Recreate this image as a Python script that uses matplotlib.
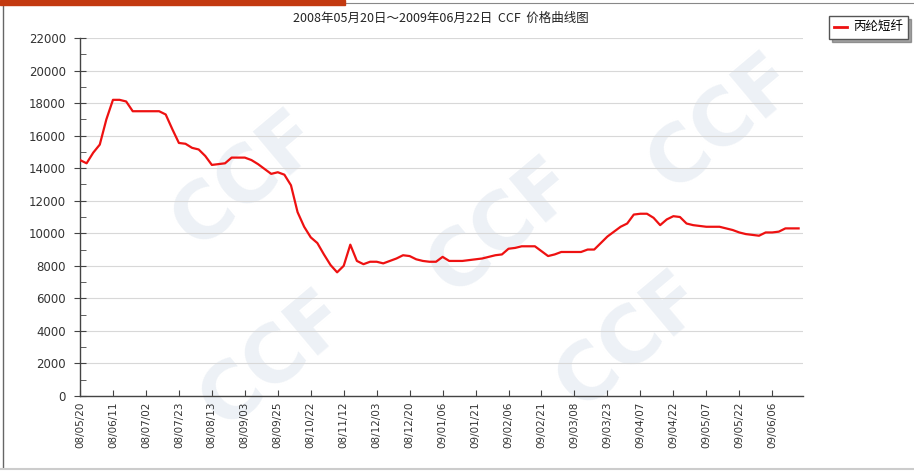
import numpy as np
import matplotlib
matplotlib.use('Agg')
import matplotlib.pyplot as plt
from matplotlib.patches import Rectangle
from matplotlib.lines import Line2D
from matplotlib.ticker import MultipleLocator

plt.rcParams['font.family'] = ['Noto Sans CJK SC', 'DejaVu Sans']

# 价格（每 3 个交易日取一次）
step = 3
prices = [14500, 14300, 14950, 15450, 17000, 18200, 18200, 18100, 17500, 17500,
          17500, 17500, 17500, 17300, 16400, 15550, 15500, 15250, 15150, 14750,
          14200, 14250, 14300, 14650, 14650, 14650, 14500, 14250, 13950, 13650,
          13750, 13600, 12950, 11300, 10400, 9750, 9400, 8700, 8050, 7600,
          8000, 9300, 8300, 8100, 8250, 8250, 8150, 8300, 8450, 8650,
          8600, 8400, 8300, 8250, 8250, 8550, 8300, 8300, 8300, 8350,
          8400, 8450, 8550, 8650, 8700, 9050, 9100, 9200, 9200, 9200,
          8900, 8600, 8700, 8850, 8850, 8850, 8850, 9000, 9000, 9400,
          9800, 10100, 10400, 10600, 11150, 11200, 11200, 10950, 10500, 10850,
          11050, 11000, 10600, 10500, 10450, 10400, 10400, 10400, 10300, 10200,
          10050, 9950, 9900, 9850, 10050, 10050, 10100, 10300, 10300, 10300]
days = np.arange(len(prices)) * step

# 横轴标签，每 15 个交易日一个
tick_labels = ['08/05/20', '08/06/11', '08/07/02', '08/07/23', '08/08/13', '08/09/03',
               '08/09/25', '08/10/22', '08/11/12', '08/12/03', '08/12/20', '09/01/06',
               '09/01/21', '09/02/06', '09/02/21', '09/03/08', '09/03/23', '09/04/07',
               '09/04/22', '09/05/07', '09/05/22', '09/06/06']
tick_every = 15
n_days = 329

title = '2008年05月20日～2009年06月22日  CCF  价格曲线图'
series_name = '丙纶短纤'

fig = plt.figure(figsize=(9.14, 4.73), dpi=100)
fig.patch.set_facecolor('white')

# 水印
for (wx, wy) in [(0.27, 0.62), (0.55, 0.52), (0.79, 0.74), (0.69, 0.28), (0.30, 0.24)]:
    fig.text(wx, wy, 'CCF', fontsize=56, fontweight='bold', color='#edf1f6',
             rotation=40, ha='center', va='center', family='DejaVu Sans', zorder=0)

ax = fig.add_axes([80 / 914, 1 - 396 / 473, 723 / 914, 358 / 473])
ax.set_zorder(2)
ax.patch.set_alpha(0)

ax.plot(days, prices, color='#ee1111', lw=1.6, zorder=3)

ax.set_xlim(0, n_days)
ax.set_ylim(0, 22000)
ax.set_xticks(np.arange(len(tick_labels)) * tick_every)
ax.set_xticklabels(tick_labels, rotation=90, fontsize=7.5, color='#333333',
                   family='DejaVu Sans')
ax.yaxis.set_major_locator(MultipleLocator(2000))
ax.yaxis.set_minor_locator(MultipleLocator(1000))
for lab in ax.get_yticklabels():
    lab.set_fontsize(8.5)
    lab.set_color('#333333')
    lab.set_family('DejaVu Sans')

ax.grid(axis='y', color='#d8d8d8', lw=0.8)
ax.set_axisbelow(True)
for s in ['top', 'right']:
    ax.spines[s].set_visible(False)
for s in ['left', 'bottom']:
    ax.spines[s].set_color('#444444')
    ax.spines[s].set_linewidth(1.0)
ax.tick_params(axis='y', which='major', direction='inout', length=8, color='#444444', pad=6)
ax.tick_params(axis='y', which='minor', direction='in', length=4, color='#444444')
ax.tick_params(axis='x', which='major', direction='in', length=4, color='#444444', pad=4)

fig.text(441 / 914, 1 - 18 / 473, title, ha='center', va='center', fontsize=9,
         color='#222222', zorder=3)

# 图例
leg = fig.legend([Line2D([0], [0], color='#ee1111', lw=2)], [series_name],
                 loc='upper right', bbox_to_anchor=(1.0, 1 - 10 / 473),
                 fontsize=9, frameon=True, fancybox=False, shadow=True,
                 handlelength=1.0, handletextpad=0.5, borderpad=0.4)
leg.get_frame().set_edgecolor('#555555')
leg.get_frame().set_linewidth(1.0)
leg.set_zorder(4)

# 外框与顶部色条
fig.patches.append(Rectangle((0, 1 - 5 / 473), 345 / 914, 5 / 473,
                             transform=fig.transFigure, color='#c33a10', zorder=5))
fig.add_artist(Line2D([3 / 914, 3 / 914], [1 - 5 / 473, 1 - 468 / 473],
                      transform=fig.transFigure, color='#666666', lw=1))
fig.add_artist(Line2D([345 / 914, 1], [1 - 3 / 473, 1 - 3 / 473],
                      transform=fig.transFigure, color='#888888', lw=0.8))
fig.add_artist(Line2D([0, 1], [1 - 469 / 473, 1 - 469 / 473],
                      transform=fig.transFigure, color='#cccccc', lw=1.5))

fig.savefig('out.png', dpi=100)
